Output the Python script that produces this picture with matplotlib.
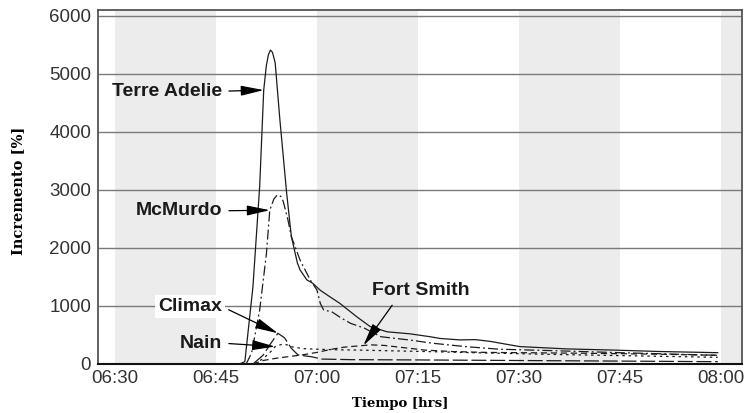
import numpy as np
import matplotlib
matplotlib.use("Agg")
import matplotlib.pyplot as plt

# Time axis in minutes after midnight (06:30 = 390)
tick_minutes = [390, 405, 420, 435, 450, 465, 480]
tick_labels = ["06:30", "06:45", "07:00", "07:15", "07:30", "07:45", "08:00"]
y_ticks = [0, 1000, 2000, 3000, 4000, 5000, 6000]

# Terre Adelie
ta_t = [408.5, 409.3, 410.5, 411.5, 412.1, 412.5, 412.8, 413.1, 413.4, 413.8, 414.5,
        415.5, 416.2, 417.1, 417.5, 418.5, 419.4, 420.5, 421.9, 423.4, 425.9, 427.9,
        430.4, 433.8, 436.8, 438.3, 441.2, 443.5, 445.7, 450.1, 457.1, 464.0, 470.9,
        479.5]
ta_v = [0, 40, 1330, 3060, 4720, 5150, 5330, 5410, 5370, 5190, 4210,
        2950, 2200, 1740, 1620, 1450, 1390, 1270, 1160, 1045, 815, 645,
        555, 520, 470, 440, 415, 420, 390, 300, 260, 240, 215,
        195]

# McMurdo
mc_t = [409.5, 410.3, 411.5, 412.5, 413.0, 413.6, 414.0, 414.3, 414.7, 415.0, 415.7,
        416.2, 417.5, 419.0, 420.0, 420.5, 421.0, 422.2, 423.5, 425.0, 427.0, 429.5,
        434.0, 437.0, 442.0, 447.0, 455.0, 465.0, 479.5]
mc_v = [0, 190, 930, 1900, 2650, 2840, 2900, 2915, 2880, 2800, 2480,
        2195, 1790, 1450, 1275, 1045, 930, 900, 800, 700, 620, 470,
        410, 360, 300, 255, 230, 195, 150]

# Climax
cl_t = [410.5, 412.0, 413.0, 414.2, 415.2, 416.2, 417.2, 419.2, 420.7, 425.0, 435.0,
        450.0, 465.0, 479.5]
cl_v = [0, 150, 330, 530, 450, 270, 155, 125, 85, 75, 70, 60, 50, 40]

# Nain
na_t = [410.8, 412.2, 413.2, 413.8, 414.8, 415.6, 416.5, 418.0, 420.0, 423.0, 426.0,
        430.0, 436.0, 445.0, 455.0, 465.0, 479.5]
na_v = [0, 110, 220, 300, 340, 330, 290, 265, 255, 245, 240,
        230, 215, 190, 165, 145, 115]

# Fort Smith
fs_t = [410.5, 412.0, 414.0, 416.0, 418.0, 420.0, 422.0, 424.0, 426.0, 428.0, 430.0,
        433.0, 436.0, 440.0, 445.0, 450.0, 460.0, 470.0, 479.5]
fs_v = [0, 60, 100, 130, 160, 200, 250, 290, 310, 330, 320,
        280, 240, 215, 200, 195, 185, 170, 150]

fig = plt.figure(figsize=(7.48, 4.13), dpi=100)
ax = fig.add_axes([98 / 748, 49 / 413, 644 / 748, 354 / 413])

ax.set_xlim(387.5, 483.1)
ax.set_ylim(0, 6100)

# alternating shaded quarter-hour bands
for start in tick_minutes[::2]:
    ax.axvspan(start, start + 15, color="#ebeceb", lw=0, zorder=0)

for y in y_ticks[1:]:
    ax.axhline(y, color="#7a7a7a", lw=1.0, zorder=1)

ink = "#1c1c1c"
ax.plot(ta_t, ta_v, color=ink, lw=0.9, ls="-", zorder=3)
ax.plot(mc_t, mc_v, color=ink, lw=0.9, ls=(0, (8, 2.5, 1.5, 2.5)), zorder=3)
ax.plot(cl_t, cl_v, color=ink, lw=0.9, ls=(0, (12, 3)), zorder=3)
ax.plot(na_t, na_v, color=ink, lw=0.9, ls=(0, (2, 3)), zorder=3)
ax.plot(fs_t, fs_v, color=ink, lw=0.9, ls=(0, (5, 3)), zorder=3)

ax.set_xticks(tick_minutes)
ax.set_xticklabels(tick_labels)
ax.set_yticks(y_ticks)
ax.set_yticklabels([str(v) for v in y_ticks])
ax.tick_params(axis="both", length=0, labelsize=13.5, labelcolor="#333333",
               labelfontfamily="Liberation Sans")
ax.tick_params(axis="y", pad=5)
ax.tick_params(axis="x", pad=4)

for side in ["top", "right", "left"]:
    ax.spines[side].set_color("#555555")
    ax.spines[side].set_linewidth(1.3)
ax.spines["bottom"].set_color("#111111")
ax.spines["bottom"].set_linewidth(1.5)

ax.set_ylabel("Incremento [%]", family="DejaVu Serif", weight="bold", fontsize=10.5)
ax.set_xlabel("Tiempo [hrs]", family="DejaVu Serif", weight="bold", fontsize=9.5)
ax.yaxis.set_label_coords(-0.113, 0.49)
ax.xaxis.set_label_coords(0.469, -0.092)

arrow = dict(arrowstyle="-|>,head_length=1.0,head_width=0.22", color="black",
             lw=0.9, shrinkA=3, shrinkB=0, relpos=(1.0, 0.5))
label_font = dict(family="Liberation Sans", weight="bold", fontsize=14, color="#1a1a1a")


def point_on(t, ts, vs):
    return (t, float(np.interp(t, ts, vs)))


ax.annotate("Terre Adelie", xy=point_on(412.1, ta_t, ta_v), xytext=(405.9, 4700),
            ha="right", va="center", arrowprops=arrow, zorder=5, **label_font)
ax.annotate("McMurdo", xy=point_on(413.0, mc_t, mc_v), xytext=(405.9, 2640),
            ha="right", va="center", arrowprops=arrow, zorder=5, **label_font)
ax.annotate("Climax", xy=point_on(414.2, cl_t, cl_v), xytext=(405.9, 990),
            ha="right", va="center", arrowprops=arrow, zorder=5,
            bbox=dict(boxstyle="square,pad=0.15", fc="white", ec="none"), **label_font)
ax.annotate("Nain", xy=point_on(413.8, na_t, na_v), xytext=(405.9, 360),
            ha="right", va="center", arrowprops=arrow, zorder=5, **label_font)
fs_arrow = dict(arrow, relpos=(0.25, 0.0))
ax.annotate("Fort Smith", xy=point_on(426.9, fs_t, fs_v), xytext=(428.2, 1265),
            ha="left", va="center", arrowprops=fs_arrow, zorder=5, **label_font)

fig.savefig("out.png", dpi=100)
